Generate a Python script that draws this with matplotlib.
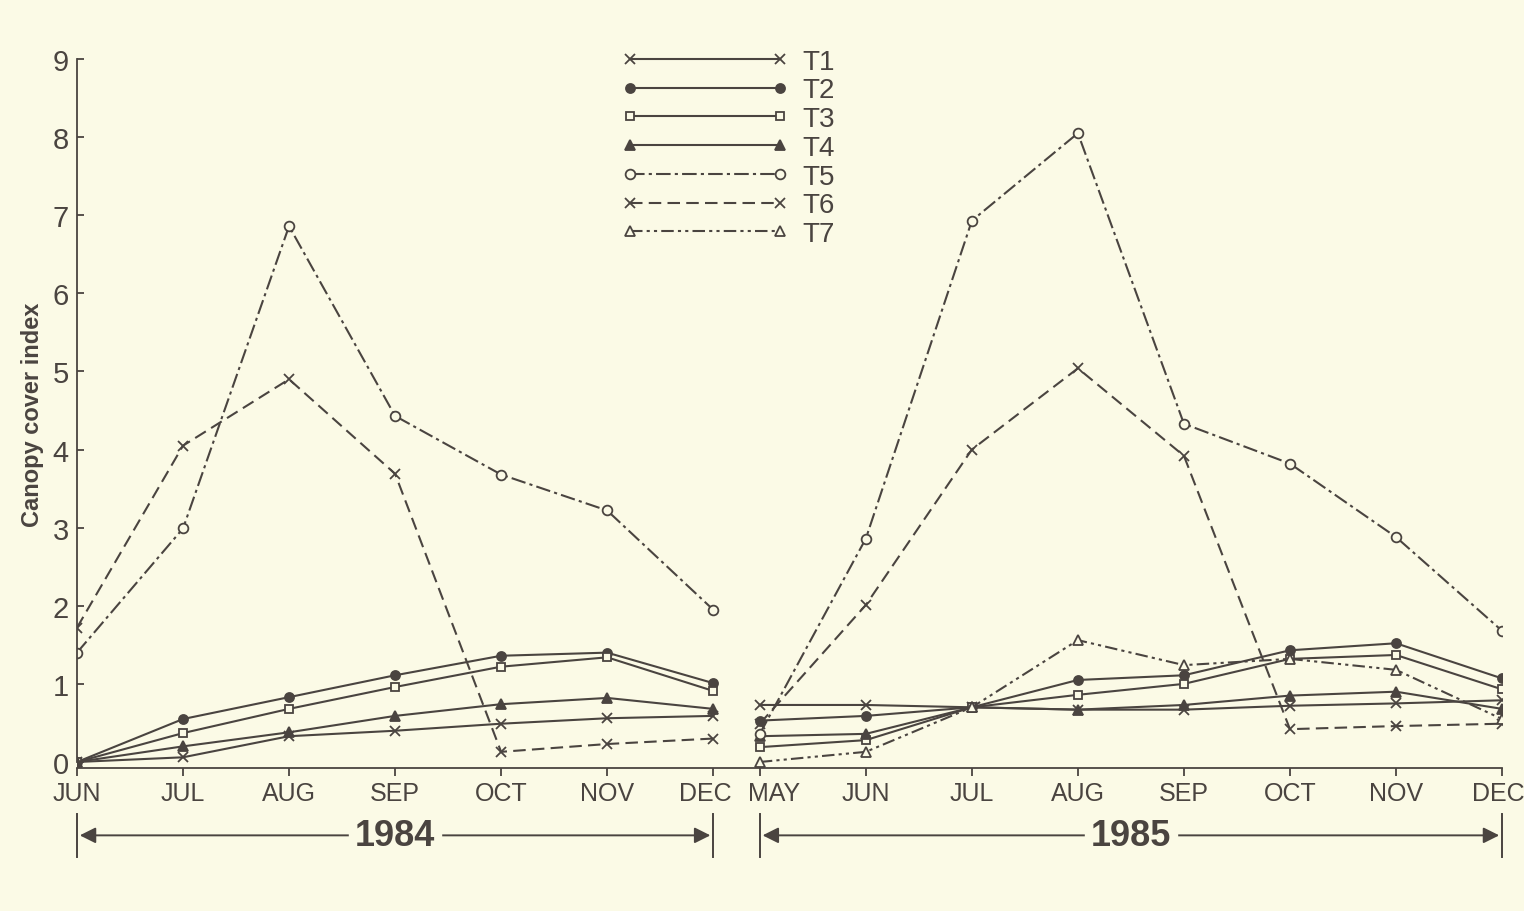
import numpy as np
import matplotlib
matplotlib.use("Agg")
import matplotlib.pyplot as plt
from matplotlib.transforms import ScaledTranslation

plt.rcParams['font.family'] = ['Liberation Sans', 'DejaVu Sans']

INK = '#4a4440'
BG = '#fbfae6'

months_84 = ['JUN', 'JUL', 'AUG', 'SEP', 'OCT', 'NOV', 'DEC']
months_85 = ['MAY', 'JUN', 'JUL', 'AUG', 'SEP', 'OCT', 'NOV', 'DEC']
gap = 0.44  # visual gap between DEC 1984 and MAY 1985, in months

nan = np.nan
y84 = {
    'T1': [0.0, 0.06, 0.33, 0.40, 0.49, 0.56, 0.59],
    'T2': [0.0, 0.55, 0.83, 1.11, 1.36, 1.40, 1.01],
    'T3': [0.0, 0.37, 0.68, 0.96, 1.22, 1.34, 0.91],
    'T4': [0.0, 0.20, 0.38, 0.59, 0.74, 0.82, 0.68],
    'T5': [1.40, 2.99, 6.86, 4.43, 3.68, 3.22, 1.95],
    'T6': [1.72, 4.05, 4.90, 3.69, 0.13, 0.23, 0.30],
    'T7': [nan] * 7,
}
y85 = {
    'T1': [0.73, 0.73, 0.70, 0.67, 0.67, 0.72, 0.75, 0.79],
    'T2': [0.53, 0.59, 0.70, 1.05, 1.11, 1.43, 1.52, 1.07],
    'T3': [0.19, 0.28, 0.70, 0.86, 1.00, 1.32, 1.37, 0.93],
    'T4': [0.33, 0.36, 0.70, 0.67, 0.73, 0.85, 0.90, 0.68],
    'T5': [0.36, 2.86, 6.93, 8.05, 4.33, 3.82, 2.88, 1.68],
    'T6': [0.49, 2.01, 4.00, 5.04, 3.92, 0.42, 0.46, 0.49],
    'T7': [0.00, 0.13, 0.70, 1.56, 1.24, 1.32, 1.18, 0.55],
}

styles = {
    'T1': dict(ls='-', marker='x', mfc=INK, ms=7),
    'T2': dict(ls='-', marker='o', mfc=INK, ms=6.5),
    'T3': dict(ls='-', marker='s', mfc=BG, ms=6),
    'T4': dict(ls='-', marker='^', mfc=INK, ms=7.5),
    'T5': dict(ls=(0, (7, 2, 1.5, 2)), marker='o', mfc=BG, ms=7),
    'T6': dict(ls=(0, (6, 3)), marker='x', mfc=INK, ms=7),
    'T7': dict(ls=(0, (6, 2, 1.5, 2, 1.5, 2)), marker='^', mfc=BG, ms=7.5),
}

x84 = np.arange(len(months_84))
x85 = np.arange(len(months_85)) + x84[-1] + gap

fig = plt.figure(figsize=(15.24, 9.12), dpi=100, facecolor=BG)
ax = fig.add_axes([77 / 1524, 1 - 769 / 912, 1425 / 1524, 709 / 912])
ax.set_facecolor(BG)

for name in styles:
    st = styles[name]
    ax.plot(x84, y84[name], color=INK, lw=1.5, mec=INK, mew=1.3, label=name, **st)
    ax.plot(x85, y85[name], color=INK, lw=1.5, mec=INK, mew=1.3, **st)

ax.set_xlim(0, x85[-1])
ax.set_ylim(-0.077, 9)
ax.set_yticks(range(10))
ax.spines['left'].set_bounds(0, 9)
for s in ['top', 'right']:
    ax.spines[s].set_visible(False)
for s in ['left', 'bottom']:
    ax.spines[s].set_color(INK)
    ax.spines[s].set_linewidth(1.3)
ax.set_xticks(np.concatenate([x84, x85]))
ax.set_xticklabels(months_84 + months_85)
ax.tick_params(colors=INK, labelsize=21, length=6, width=1.3)
ax.tick_params(axis='x', labelsize=18)
ax.tick_params(axis='y', length=5, direction='in', pad=6)
# nudge crowded labels apart (DEC 1984 / MAY 1985) and keep last DEC inside
labels = ax.get_xticklabels()
nudges = {len(months_84) - 1: -8, len(months_84): 14, len(labels) - 1: -4}
for i, dx in nudges.items():
    labels[i].set_transform(labels[i].get_transform() + ScaledTranslation(dx / 100, 0, fig.dpi_scale_trans))
ax.set_ylabel('Canopy cover index', fontsize=17, fontweight='bold', color=INK, labelpad=6)

# year span arrows
trans = ax.get_xaxis_transform()
for xs, xe, year in [(x84[0], x84[-1], '1984'), (x85[0], x85[-1], '1985')]:
    yy = -0.095
    ax.annotate('', xy=(xs, yy), xytext=(xe, yy), xycoords=trans, textcoords=trans,
                arrowprops=dict(arrowstyle='<|-|>', color=INK, lw=1.4, mutation_scale=24),
                annotation_clip=False)
    for xv in (xs, xe):
        ax.plot([xv, xv], [yy - 0.03, yy + 0.03], transform=trans, color=INK, lw=1.4, clip_on=False)
    ax.text((xs + xe) / 2, yy, year, transform=trans, ha='center', va='center',
            fontsize=26, fontweight='bold', color=INK, backgroundcolor=BG)

leg = ax.legend(loc='upper left', bbox_to_anchor=(520 / 1425, 1.05), frameon=False,
                numpoints=2, handlelength=6.0, handletextpad=0.5, labelspacing=0.1,
                fontsize=20)
for t in leg.get_texts():
    t.set_color(INK)

fig.savefig('out.png', dpi=100, facecolor=BG)
